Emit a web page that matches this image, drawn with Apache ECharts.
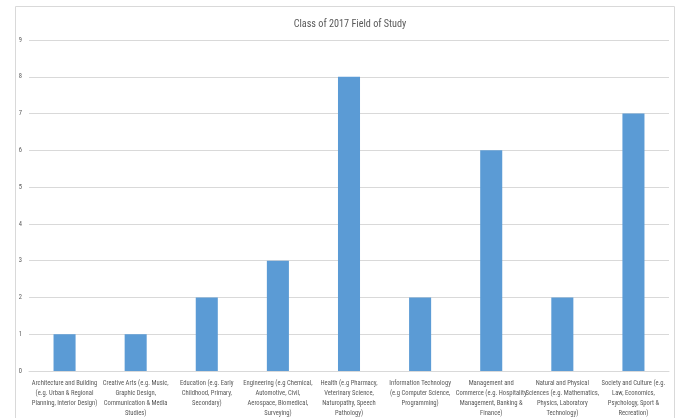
<!DOCTYPE html>
<html><head><meta charset="utf-8">
<script src="https://cdn.jsdelivr.net/npm/echarts@6/dist/echarts.min.js"></script>
<style>html,body{margin:0;padding:0;background:#fff}#c{width:678px;height:418px}</style>
</head><body><div id="c"></div>
<script>
var categories = [
  "Architecture and Building\n(e.g. Urban & Regional\nPlanning, Interior Design)",
  "Creative Arts (e.g. Music,\nGraphic Design,\nCommunication & Media\nStudies)",
  "Education (e.g. Early\nChildhood, Primary,\nSecondary)",
  "Engineering (e.g Chemical,\nAutomotive, Civil,\nAerospace, Biomedical,\nSurveying)",
  "Health (e.g Pharmacy,\nVeterinary Science,\nNaturopathy, Speech\nPathology)",
  "Information Technology\n(e.g Computer Science,\nProgramming)",
  "Management and\nCommerce (e.g. Hospitality\nManagement, Banking &\nFinance)",
  "Natural and Physical\nSciences (e.g. Mathematics,\nPhysics, Laboratory\nTechnology)",
  "Society and Culture (e.g.\nLaw, Economics,\nPsychology, Sport &\nRecreation)"
];
var values = [1, 1, 2, 3, 8, 2, 6, 2, 7];
var titleText = "Class of 2017 Field of Study";
var FONT = "'Roboto Condensed', 'Liberation Sans', sans-serif";
var chart = echarts.init(document.getElementById('c'));
chart.setOption({
  animation: false,
  graphic: [{type:'rect', shape:{x:15.5,y:6.5,width:659,height:420}, style:{fill:'none', stroke:'#d9d9d9', lineWidth:1}, silent:true}],
  title: {text: titleText, left: 345, textAlign: 'center', top: 14, textStyle:{fontFamily:FONT, fontSize:10.2, fontWeight:'normal', color:'#595959'}},
  grid: {left: 29, right: 9, top: 40, bottom: 47},
  xAxis: {type:'category', data: categories,
    axisLine:{lineStyle:{color:'#d9d9d9'}}, axisTick:{show:false},
    axisLabel:{interval:0, fontFamily:FONT, fontSize:6.6, color:'#595959', lineHeight:10, margin:7}},
  yAxis: {type:'value', min:0, max:9, interval:1,
    axisLine:{show:false}, axisTick:{show:false},
    splitLine:{lineStyle:{color:'#d9d9d9'}},
    axisLabel:{fontFamily:FONT, fontSize:6.5, color:'#595959', margin:7}},
  series: [{type:'bar', data: values, barWidth:'31%', itemStyle:{color:'#5b9bd5'}}]
});
</script></body></html>
